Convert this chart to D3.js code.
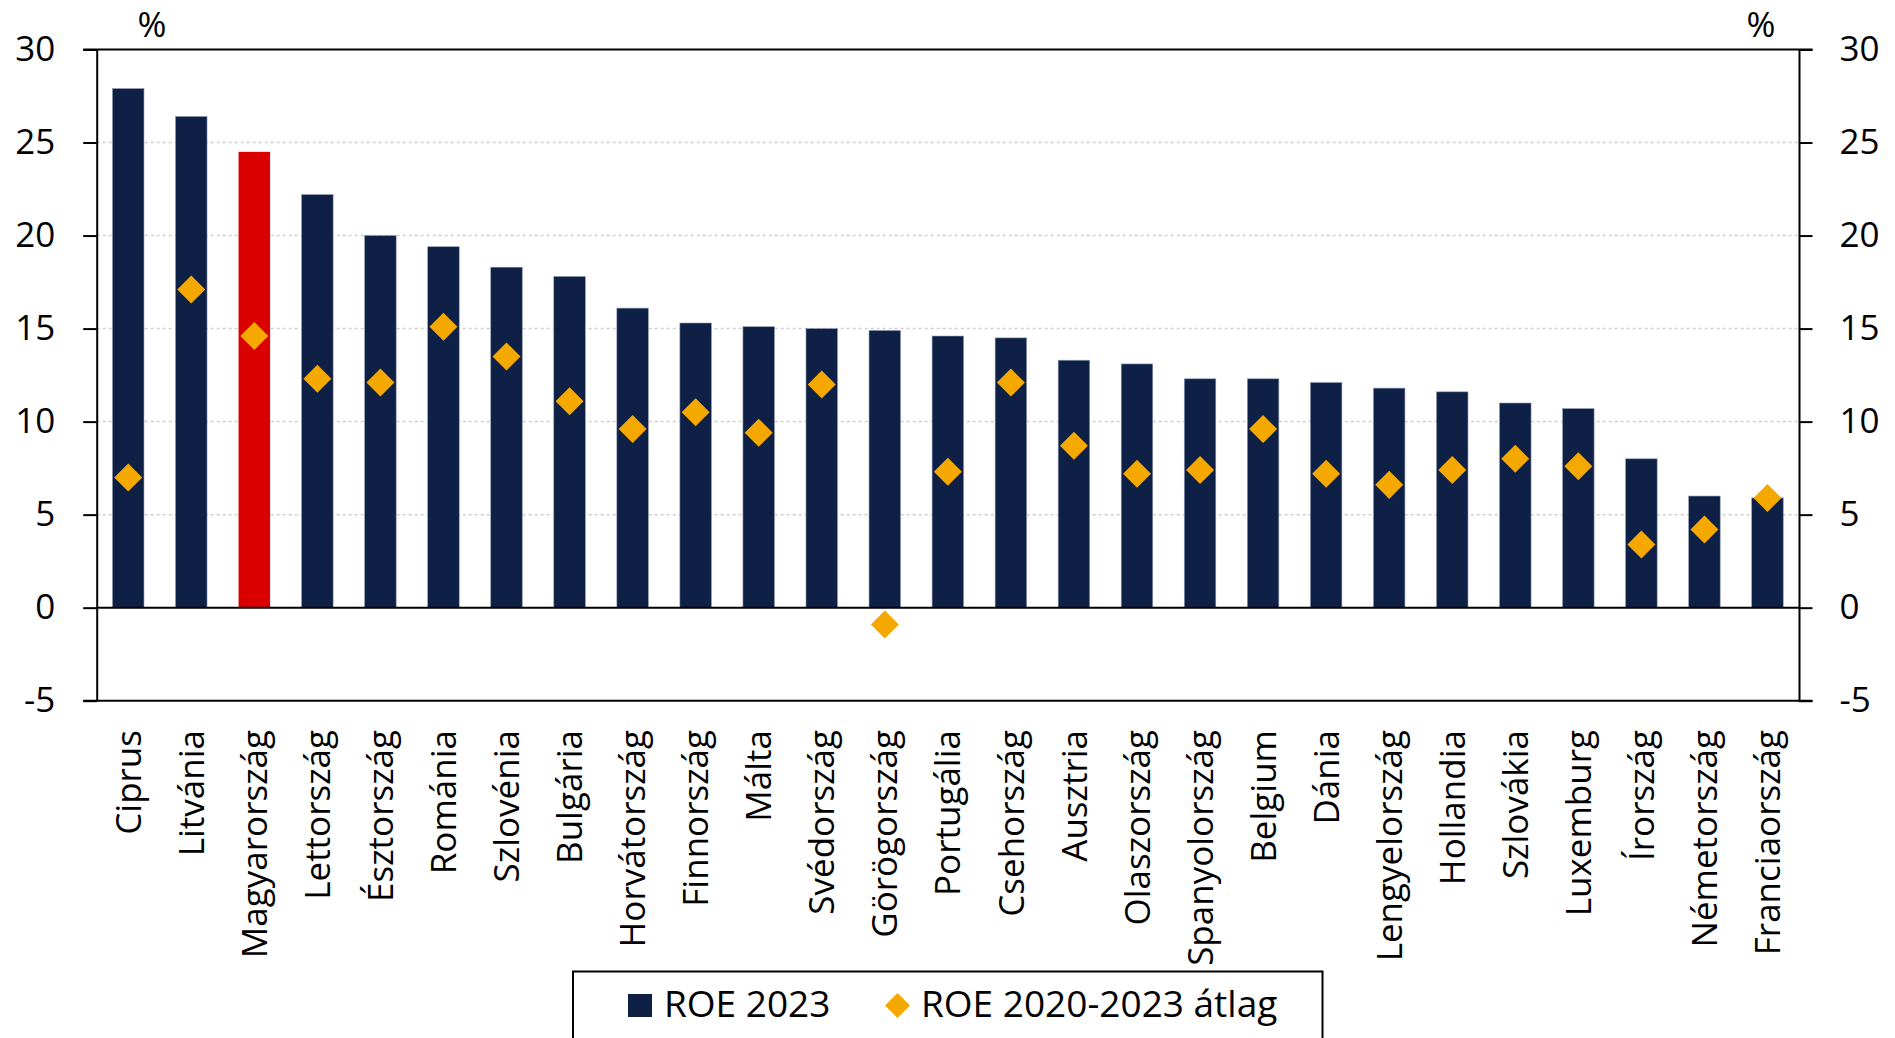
<!DOCTYPE html>
<html>
<head>
<meta charset="utf-8">
<script src="https://cdn.jsdelivr.net/npm/d3@7"></script>
<style>
  body { margin: 0; background: #fff; }
  svg text { font-family: "Open Sans", sans-serif; fill: #000; }
</style>
</head>
<body>
<svg width="1895" height="1038"></svg>
<script>
var countries = ["Ciprus", "Litvánia", "Magyarország", "Lettország", "Észtország", "Románia",
  "Szlovénia", "Bulgária", "Horvátország", "Finnország", "Málta", "Svédország", "Görögország",
  "Portugália", "Csehország", "Ausztria", "Olaszország", "Spanyolország", "Belgium", "Dánia",
  "Lengyelország", "Hollandia", "Szlovákia", "Luxemburg", "Írország", "Németország", "Franciaország"];

var roe2023 = [27.9, 26.4, 24.5, 22.2, 20.0, 19.4, 18.3, 17.8, 16.1, 15.3, 15.1, 15.0, 14.9,
  14.6, 14.5, 13.3, 13.1, 12.3, 12.3, 12.1, 11.8, 11.6, 11.0, 10.7, 8.0, 6.0, 5.9];

var roeAvg = [7.0, 17.1, 14.6, 12.3, 12.1, 15.1, 13.5, 11.1, 9.6, 10.5, 9.4, 12.0, -0.9,
  7.3, 12.1, 8.7, 7.2, 7.4, 9.6, 7.2, 6.6, 7.4, 8.0, 7.6, 3.4, 4.2, 5.9];

var yTicks = [-5, 0, 5, 10, 15, 20, 25, 30];
var highlight = "Magyarország";
var seriesNames = ["ROE 2023", "ROE 2020-2023 átlag"];

var navy = "#0E2046", red = "#DB0000", orange = "#F5A800";

var svg = d3.select("svg");
var pLeft = 96.7, pRight = 1799, pTop = 49.5, pBottom = 700.7;

var x = d3.scaleBand().domain(countries).range([pLeft, pRight]).paddingInner(0.5).paddingOuter(0.25);
var y = d3.scaleLinear().domain([-5, 30]).range([pBottom, pTop]);

// gridlines
svg.append("g")
  .selectAll("line").data(yTicks.filter(d => d > 0 && d < 30)).enter()
  .append("line")
    .attr("x1", pLeft).attr("x2", pRight)
    .attr("y1", d => y(d)).attr("y2", d => y(d))
    .attr("stroke", "#cfcfcf").attr("stroke-width", 1.5)
    .attr("stroke-dasharray", "3,3");

// bars
svg.append("g")
  .selectAll("rect").data(countries).enter()
  .append("rect")
    .attr("x", d => x(d))
    .attr("width", x.bandwidth())
    .attr("y", (d, i) => y(Math.max(0, roe2023[i])))
    .attr("height", (d, i) => Math.abs(y(roe2023[i]) - y(0)))
    .attr("fill", d => d === highlight ? red : navy)
    .attr("stroke", d => d === highlight ? "none" : "#8f9ab0")
    .attr("stroke-width", 0.6);

// frame: top, bottom, zero line
[30, -5].forEach(v => {
  svg.append("line")
    .attr("x1", pLeft - 13.5).attr("x2", pRight + 13.5)
    .attr("y1", y(v)).attr("y2", y(v))
    .attr("stroke", "#000").attr("stroke-width", 2);
});
svg.append("line")
  .attr("x1", pLeft).attr("x2", pRight)
  .attr("y1", y(0)).attr("y2", y(0))
  .attr("stroke", "#000").attr("stroke-width", 2);

// axes
var fmt = d => String(d);
var axL = svg.append("g")
  .attr("transform", `translate(${pLeft},0)`)
  .call(d3.axisLeft(y).tickValues(yTicks).tickFormat(fmt).tickSize(13.5).tickSizeOuter(0).tickPadding(28));
var axR = svg.append("g")
  .attr("transform", `translate(${pRight},0)`)
  .call(d3.axisRight(y).tickValues(yTicks).tickFormat(fmt).tickSize(13.5).tickSizeOuter(0).tickPadding(27));
[axL, axR].forEach(ax => {
  ax.selectAll("path, line").attr("stroke", "#000").attr("stroke-width", 2);
  ax.selectAll("text")
    .attr("font-family", "Open Sans").attr("font-size", 35).attr("fill", "#000");
});

// diamonds
var diamond = d3.symbol().type(d3.symbolDiamond2).size(500);
svg.append("g")
  .selectAll("path").data(countries).enter()
  .append("path")
    .attr("d", diamond)
    .attr("transform", (d, i) => `translate(${x(d) + x.bandwidth() / 2},${y(roeAvg[i])})`)
    .attr("fill", orange);

// percent labels
svg.append("text").attr("x", 152).attr("y", 37).attr("text-anchor", "middle")
  .attr("font-size", 35).text("%");
svg.append("text").attr("x", 1761).attr("y", 37).attr("text-anchor", "middle")
  .attr("font-size", 35).text("%");

// legend box (labels drawn over it)
svg.append("rect")
  .attr("x", 573).attr("y", 971.5).attr("width", 749.5).attr("height", 90)
  .attr("fill", "none").attr("stroke", "#000").attr("stroke-width", 2);

var lg = svg.append("g");
lg.append("rect").attr("x", 628).attr("y", 994).attr("width", 24).attr("height", 23).attr("fill", navy);
lg.append("text").attr("x", 664).attr("y", 1017).attr("font-size", 37).text(seriesNames[0]);
lg.append("path")
  .attr("d", d3.symbol().type(d3.symbolDiamond2).size(400))
  .attr("transform", "translate(897.5,1005.5)")
  .attr("fill", orange);
lg.append("text").attr("x", 921).attr("y", 1017).attr("font-size", 37).text(seriesNames[1]);

// category labels
svg.append("g")
  .selectAll("text").data(countries).enter()
  .append("text")
    .attr("transform", d => `translate(${x(d) + x.bandwidth() / 2},730) rotate(-90)`)
    .attr("dy", "0.36em")
    .attr("text-anchor", "end")
    .attr("font-size", 35)
    .text(d => d);
</script>
</body>
</html>
